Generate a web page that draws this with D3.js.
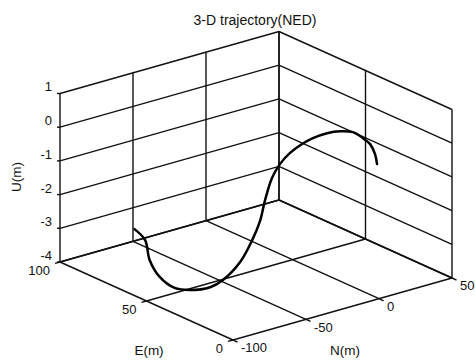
<!DOCTYPE html>
<html>
<head>
<meta charset="utf-8">
<script src="https://cdn.jsdelivr.net/npm/d3@7"></script>
<style>
  body { margin: 0; background: #fff; }
  text { font-family: "Liberation Sans", Arial, Helvetica, sans-serif; fill: #111; }
</style>
</head>
<body>
<div id="chart"></div>
<script>
// axis ticks
const nTicks = [-100, -50, 0, 50];
const eTicks = [0, 50, 100];
const uTicks = [-4, -3, -2, -1, 0, 1];

// trajectory (N, E, U in metres)
const trajN = [-49, -50, -63.5, -72, -76, -71.5, -63.5, -55, -40, -27, -18, -10, -1.3, 2.4, 5.8, 11.3, 15.1, 20.9, 26.7, 31.2, 31.4, 30.4, 26.3, 22.6];
const trajE = [100, 93, 79, 66, 54, 49, 44, 44, 46.5, 50.5, 53.5, 57.5, 60.7, 59.2, 56.3, 54, 50.9, 47.7, 45, 41.4, 35.8, 30.8, 24.5, 20.2];
const trajU = [-3.65, -3.8, -3.9, -4, -4, -4, -3.9, -3.8, -3.5, -3.1, -2.7, -2.3, -1.8, -1.4, -1.05, -0.8, -0.6, -0.45, -0.4, -0.4, -0.45, -0.5, -0.6, -0.75];

const width = 475, height = 363;
const ox = 60, oy = 262;   // screen point of N=-100, E=100, U=-4

const svg = d3.select("#chart")
  .append("svg")
    .attr("width", width)
    .attr("height", height);

// oblique projection built from linear scales
const sxN = d3.scaleLinear().domain([-100, 50]).range([0, 219]);
const syN = d3.scaleLinear().domain([-100, 50]).range([0, -62]);
const sxE = d3.scaleLinear().domain([100, 0]).range([0, 173]);
const syE = d3.scaleLinear().domain([100, 0]).range([0, 78]);
const syU = d3.scaleLinear().domain([-4, 1]).range([0, -168.5]);

const proj = (n, e, u) => [ox + sxN(n) + sxE(e), oy + syN(n) + syE(e) + syU(u)];

const seg = (a, b) => {
  const p = proj(...a), q = proj(...b);
  svg.append("line")
    .attr("x1", p[0]).attr("y1", p[1])
    .attr("x2", q[0]).attr("y2", q[1])
    .attr("stroke", "#111")
    .attr("stroke-width", 1.4);
};

// back wall E=100
uTicks.forEach(u => seg([-100, 100, u], [50, 100, u]));
nTicks.forEach(n => seg([n, 100, -4], [n, 100, 1]));
// back wall N=50
uTicks.forEach(u => seg([50, 100, u], [50, 0, u]));
eTicks.forEach(e => seg([50, e, -4], [50, e, 1]));
// floor U=-4
eTicks.forEach(e => seg([-100, e, -4], [50, e, -4]));
nTicks.forEach(n => seg([n, 0, -4], [n, 100, -4]));

// U ticks
uTicks.forEach(u => {
  const p = proj(-100, 100, u);
  svg.append("line")
    .attr("x1", p[0] - 3).attr("y1", p[1])
    .attr("x2", p[0]).attr("y2", p[1])
    .attr("stroke", "#111").attr("stroke-width", 1.4);
  svg.append("text")
    .attr("x", p[0] - 8).attr("y", p[1] - 5.5)
    .attr("text-anchor", "end")
    .attr("dominant-baseline", "middle")
    .style("font-size", "13px")
    .text(u);
});

// E ticks (front-left edge, N=-100)
eTicks.forEach(e => {
  const p = proj(-100, e, -4);
  svg.append("line")
    .attr("x1", p[0]).attr("y1", p[1])
    .attr("x2", p[0] - 5).attr("y2", p[1] + 1.4)
    .attr("stroke", "#111").attr("stroke-width", 1.4);
  svg.append("text")
    .attr("x", p[0] - 10).attr("y", p[1] + 9.5)
    .attr("text-anchor", "end")
    .attr("dominant-baseline", "middle")
    .style("font-size", "13px")
    .text(e);
});

// N ticks (front-right edge, E=0)
nTicks.forEach(n => {
  const p = proj(n, 0, -4);
  svg.append("line")
    .attr("x1", p[0]).attr("y1", p[1])
    .attr("x2", p[0] + 4.6).attr("y2", p[1] + 2.1)
    .attr("stroke", "#111").attr("stroke-width", 1.4);
  svg.append("text")
    .attr("x", p[0] + 8).attr("y", p[1] + 9)
    .attr("text-anchor", "start")
    .attr("dominant-baseline", "middle")
    .style("font-size", "13px")
    .text(n);
});

// trajectory
const pts = trajN.map((n, i) => proj(n, trajE[i], trajU[i]));
svg.append("path")
  .datum(pts)
  .attr("fill", "none")
  .attr("stroke", "#000")
  .attr("stroke-width", 2.5)
  .attr("stroke-linecap", "round")
  .attr("d", d3.line().curve(d3.curveCatmullRom));

// titles
svg.append("text")
  .attr("x", 255).attr("y", 24.5)
  .attr("text-anchor", "middle")
  .style("font-size", "14px")
  .text("3-D trajectory(NED)");
svg.append("text")
  .attr("transform", "translate(21,177)rotate(-90)")
  .attr("text-anchor", "middle")
  .style("font-size", "13.5px")
  .text("U(m)");
svg.append("text")
  .attr("x", 149).attr("y", 355)
  .attr("text-anchor", "middle")
  .style("font-size", "13.5px")
  .text("E(m)");
svg.append("text")
  .attr("x", 345).attr("y", 355)
  .attr("text-anchor", "middle")
  .style("font-size", "13.5px")
  .text("N(m)");
</script>
</body>
</html>
